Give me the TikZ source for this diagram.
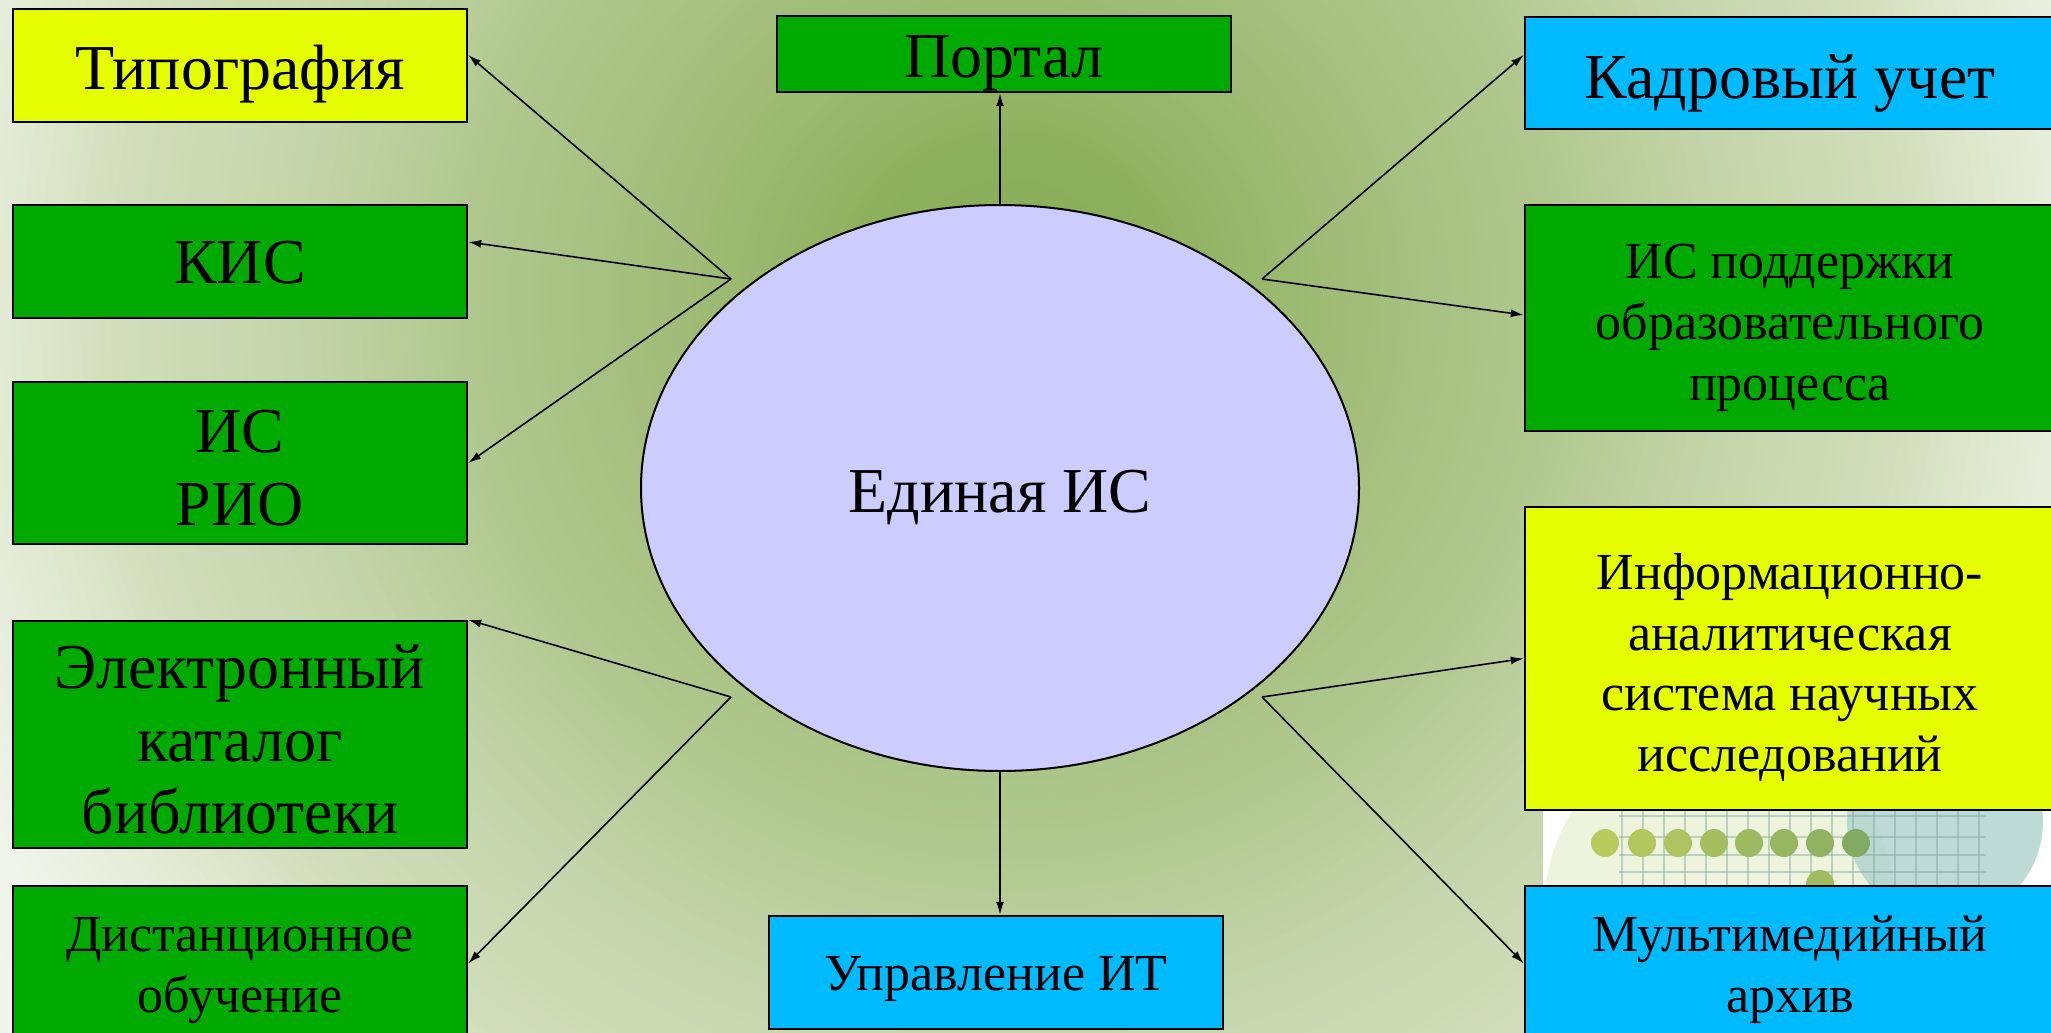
\documentclass[tikz,border=0pt]{standalone}
\usepackage{fontspec}
\setmainfont{Liberation Serif}
\usetikzlibrary{arrows.meta,calc,shapes.geometric}
\definecolor{bga}{HTML}{88AD58}
\definecolor{bgb}{HTML}{8DB05C}
\definecolor{bgc}{HTML}{A0BC77}
\definecolor{bgd}{HTML}{B2C991}
\definecolor{bge}{HTML}{C2D4A8}
\definecolor{bgf}{HTML}{D2DEBB}
\definecolor{bgg}{HTML}{E2EAD3}
\definecolor{bgh}{HTML}{F0F4EA}
\definecolor{bgi}{HTML}{F3F6EE}
\definecolor{yel}{HTML}{E6FF00}
\definecolor{grn}{HTML}{00AA00}
\definecolor{cyn}{HTML}{00BBFF}
\definecolor{ellc}{HTML}{CCCCFF}
\definecolor{palec}{HTML}{EEF3DE}
\definecolor{tealc}{HTML}{B3D4CE}
\definecolor{gridc}{HTML}{7FA89F}
\definecolor{dota}{HTML}{BACB5E}
\definecolor{dotb}{HTML}{80A862}
\begin{document}
\begin{tikzpicture}[x=0.5pt,y=-0.5pt,
  box/.style={draw=black, line width=1.2pt, inner sep=0pt},
  txt/.style={inner sep=0pt, align=center, text=black},
  bigtxt/.style={font=\fontsize{32}{36.3}\selectfont},
  smalltxt/.style={font=\fontsize{26}{30.4}\selectfont},
  arr/.style={-{Latex[length=6.5pt,width=4pt]}, line width=0.8pt, draw=black}]
\useasboundingbox (0,0) rectangle (2051,1033);
% background: radial gradient from concentric discs
\begin{scope}
  \clip (0,0) rectangle (2051,1033);
  \fill[bgi] (0,0) rectangle (2051,1033);
  \foreach \ro/\ri/\co/\ci in {1400/1150/bgi/bgh, 1150/1010/bgh/bgg, 1010/900/bgg/bgf, 900/700/bgf/bge, 700/570/bge/bgd, 570/330/bgd/bgc, 330/150/bgc/bgb, 150/0/bgb/bga} {
    \pgfmathtruncatemacro\nn{(\ro-\ri)/10}
    \foreach \k in {1,...,\nn} {
      \pgfmathsetmacro\rr{\ro-(\k-1)*10}
      \pgfmathtruncatemacro\pp{(\rr-\ri)/(\ro-\ri)*100}
      \fill[\co!\pp!\ci] (1010,300) circle (\rr);
    }
  }
\end{scope}
% decorative picture strip (bottom right)
\begin{scope}
  \clip (1543,800) rectangle (2051,900);
  \fill[white] (1543,800) rectangle (2051,900);
  \fill[palec] (1720,905) circle (175);
  \fill[tealc, opacity=0.85] (1945,822) circle (98);
  \foreach \gx in {1622,1643,...,1986} {
    \draw[gridc, line width=0.6pt, opacity=0.45] (\gx,805) -- (\gx,900);
  }
  \foreach \gy in {816,837,855,872} {
    \draw[gridc, line width=0.6pt, opacity=0.45] (1619,\gy) -- (1986,\gy);
  }
  \foreach \dx/\p in {1605/100,1642/88,1678/76,1714/64,1749/52,1784/40,1820/28,1856/5} {
    \fill[dota!\p!dotb] (\dx,843) circle (14);
  }
  \fill[dota!55!dotb] (1820,884) circle (14);
\end{scope}
% central ellipse
\node[ellipse, draw=black, line width=1pt, fill=ellc, minimum width=359pt, minimum height=283pt, inner sep=0pt] (ell) at (1000,488) {};
\node[txt, bigtxt] (ellt) at ($(ell.center)+(0,9)$) {Единая ИС};
% left column
\node[box, fill=yel, minimum width=227pt, minimum height=56.5pt] (typ) at (240,65.5) {};
\node[txt, bigtxt] (typt) at ($(typ.center)+(0,9)$) {Типография};
\node[box, fill=grn, minimum width=227pt, minimum height=56.5pt] (kis) at (240,261.5) {};
\node[txt, bigtxt] (kist) at ($(kis.center)+(0,1)$) {КИС};
\node[box, fill=grn, minimum width=227pt, minimum height=81pt] (rio) at (240,463) {};
\node[txt, bigtxt] (riot) at ($(rio.center)+(0,5)$) {ИС\\РИО};
\node[box, fill=grn, minimum width=227pt, minimum height=113.5pt] (elk) at (240,734.5) {};
\node[txt, bigtxt] (elkt) at ($(elk.center)+(0,5)$) {Электронный\\каталог\\библиотеки};
\node[box, fill=grn, minimum width=227pt, minimum height=79.5pt] (dist) at (240,965.5) {};
\node[txt, smalltxt] (distt) at ($(dist.center)+(0,5)$) {Дистанционное\\обучение};
% centre column
\node[box, fill=grn, minimum width=227pt, minimum height=38pt] (port) at (1004,54) {};
\node[txt, bigtxt] (portt) at ($(port.center)+(0,9)$) {Портал};
\node[box, fill=cyn, minimum width=227pt, minimum height=56.5pt] (upr) at (996,972.5) {};
\node[txt, smalltxt] (uprt) at ($(upr.center)+(0,6.5)$) {Управление ИТ};
% right column
\node[box, fill=cyn, minimum width=265pt, minimum height=56pt] (kadr) at (1790,73) {};
\node[txt, bigtxt] (kadrt) at ($(kadr.center)+(0,10)$) {Кадровый учет};
\node[box, fill=grn, minimum width=265pt, minimum height=113pt] (isp) at (1790,318) {};
\node[txt, smalltxt] (ispt) at ($(isp.center)+(0,10)$) {ИС поддержки\\образовательного\\процесса};
\node[box, fill=yel, minimum width=265pt, minimum height=151.5pt] (inf) at (1790,658.5) {};
\node[txt, smalltxt] (inft) at ($(inf.center)+(0,9)$) {Информационно-\\аналитическая\\система научных\\исследований};
\node[box, fill=cyn, minimum width=265pt, minimum height=79.5pt] (mult) at (1790,965.5) {};
\node[txt, smalltxt] (multt) at ($(mult.center)+(0,4.5)$) {Мультимедийный\\архив};
% hubs
\coordinate (hl1) at (731,279);
\coordinate (hl2) at (731,697);
\coordinate (hr1) at (1262,279);
\coordinate (hr2) at (1262,697);
% connectors
\draw[arr] (hl1) -- ([yshift=5.25pt]typ.east);
\draw[arr] (hl1) -- ([yshift=9.75pt]kis.east);
\draw[arr] (hl1) -- (rio.east);
\draw[arr] (hl2) -- (elk.north east);
\draw[arr] (hl2) -- ([yshift=1pt]dist.east);
\draw[arr] (hr1) -- ([yshift=9pt]kadr.west);
\draw[arr] (hr1) -- ([yshift=1.5pt]isp.west);
\draw[arr] (hr2) -- (inf.west);
\draw[arr] (hr2) -- ([yshift=1pt]mult.west);
\draw[arr] (ell.north) -- (ell.north |- port.south);
\draw[arr] (ell.south) -- (ell.south |- upr.north);
\end{tikzpicture}
\end{document}
